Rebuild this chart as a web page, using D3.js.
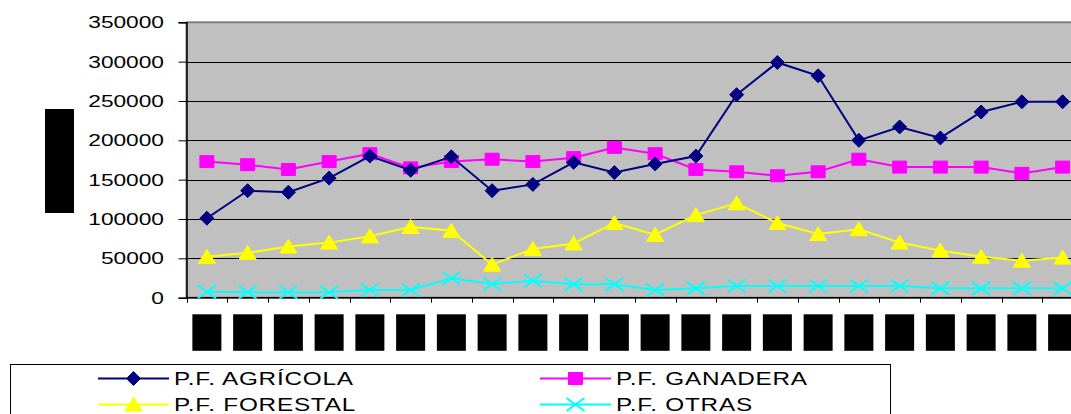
<!DOCTYPE html>
<meta charset="utf-8">
<script src="https://d3js.org/d3.v7.min.js"></script>
<style>
  body { margin: 0; background: #fff; }
  text { font-family: "Liberation Sans", Arial, sans-serif; }
</style>
<div id="chart"></div>
<script>
// categories (labels are blacked out in the reference)
var years = ["1985", "1986", "1987", "1988", "1989", "1990", "1991", "1992", "1993", "1994", "1995",
             "1996", "1997", "1998", "1999", "2000", "2001", "2002", "2003", "2004", "2005", "2006"];

var agricola = [101000, 136000, 134000, 152000, 180000, 162000, 179000, 136000, 144000, 172000, 159000,
                170000, 180000, 258000, 299000, 282000, 200000, 217000, 203000, 236000, 249000, 249000];
var ganadera = [173000, 169000, 163000, 173000, 183000, 165000, 173000, 176000, 173000, 178000, 191000,
                183000, 163000, 160000, 155000, 160000, 176000, 166000, 166000, 166000, 158000, 166000];
var forestal = [52000, 57000, 65000, 70000, 78000, 90000, 85000, 42000, 62000, 69000, 95000,
                80000, 105000, 120000, 95000, 81000, 87000, 70000, 60000, 52000, 47000, 51000];
var otras = [7600, 7000, 7000, 7000, 9800, 9800, 24700, 17400, 21500, 17000, 17000,
             9800, 11900, 14800, 14800, 14800, 14800, 14800, 11900, 11900, 11900, 11900];

var yTicks = [0, 50000, 100000, 150000, 200000, 250000, 300000, 350000];

var series = [
  { name: "P.F. AGRÍCOLA", values: agricola, color: "#000080", marker: "diamond" },
  { name: "P.F. GANADERA", values: ganadera, color: "#ff00ff", marker: "square" },
  { name: "P.F. FORESTAL", values: forestal, color: "#ffff00", marker: "triangle" },
  { name: "P.F. OTRAS", values: otras, color: "#00ffff", marker: "cross" }
];

var width = 1071, height = 414;
var plot = { left: 186.5, top: 22.3, bottom: 297.7, right: 1083 };
var stretch = 1.42; // text in the picture is drawn wide

var svg = d3.select("#chart").append("svg")
    .attr("width", width)
    .attr("height", height);

var x = d3.scaleBand().domain(years).range([plot.left, plot.right]);
var y = d3.scaleLinear().domain([0, 350000]).range([plot.bottom, plot.top]);

// plot background
svg.append("rect")
    .attr("x", plot.left).attr("y", plot.top)
    .attr("width", plot.right - plot.left).attr("height", plot.bottom - plot.top)
    .attr("fill", "#c0c0c0")
    .attr("stroke", "#808080")
    .attr("stroke-width", 2);

// gridlines
svg.selectAll(".grid")
    .data(yTicks.slice(1, -1))
    .enter().append("line")
    .attr("x1", plot.left).attr("x2", plot.right)
    .attr("y1", d => Math.round(y(d)) + 0.5).attr("y2", d => Math.round(y(d)) + 0.5)
    .attr("stroke", "#000").attr("stroke-width", 1);

// y axis
var yAxis = svg.append("g")
    .attr("transform", "translate(" + plot.left + ",0)")
    .call(d3.axisLeft(y).tickValues(yTicks).tickSize(8).tickFormat(d3.format("d")));
yAxis.select(".domain").attr("stroke", "#000").attr("stroke-width", 1.5);
yAxis.selectAll(".tick line").attr("stroke", "#000");
yAxis.selectAll(".tick text")
    .attr("x", 0).attr("dy", "0.35em")
    .attr("font-size", 16)
    .attr("font-family", "Liberation Sans, Arial, sans-serif")
    .attr("fill", "#000")
    .attr("transform", "translate(-22.5,0) scale(" + stretch + ",1)");

// x axis with ticks between categories
var xAxis = svg.append("g").attr("transform", "translate(0," + plot.bottom + ")");
xAxis.append("line")
    .attr("x1", plot.left).attr("x2", plot.right)
    .attr("stroke", "#000").attr("stroke-width", 1.5);
xAxis.selectAll(".xt")
    .data(years)
    .enter().append("line")
    .attr("x1", d => Math.round(x(d)) + 0.5).attr("x2", d => Math.round(x(d)) + 0.5)
    .attr("y1", 0).attr("y2", 5)
    .attr("stroke", "#000");

// category labels (redacted as black boxes)
var labels = svg.append("g");
labels.selectAll("rect")
    .data(years)
    .enter().append("rect")
    .attr("x", d => x(d) + x.bandwidth() / 2 - 14.5)
    .attr("y", 314.3)
    .attr("width", 29)
    .attr("height", 36.5)
    .attr("fill", "#000");
labels.selectAll("text")
    .data(years)
    .enter().append("text")
    .attr("transform", d => "translate(" + (x(d) + x.bandwidth() / 2 + 5) + ",332.5) rotate(-90)")
    .attr("text-anchor", "middle")
    .attr("font-size", 13)
    .attr("fill", "#000")
    .text(d => d);

// y axis title (redacted)
svg.append("rect")
    .attr("x", 45).attr("y", 109)
    .attr("width", 29).attr("height", 104)
    .attr("fill", "#000");

// marker shapes
function markerPath(type) {
  if (type === "diamond") return "M0,-7L7,0L0,7L-7,0Z";
  if (type === "square") return "M-7,-6H7V6H-7Z";
  if (type === "triangle") return "M0,-7.5L8.5,6.5H-8.5Z";
  return "M-9,-6.5L9,6.5M-9,6.5L9,-6.5";
}

function drawMarker(g, s) {
  var p = g.append("path").attr("d", markerPath(s.marker));
  if (s.marker === "cross") {
    p.attr("fill", "none").attr("stroke", s.color).attr("stroke-width", 2);
  } else {
    p.attr("fill", s.color).attr("stroke", s.color).attr("stroke-width", 1);
  }
}

var line = d3.line()
    .x((d, i) => x(years[i]) + x.bandwidth() / 2)
    .y(d => y(d));

var clip = svg.append("defs").append("clipPath").attr("id", "clip")
    .append("rect").attr("x", 0).attr("y", 0).attr("width", width).attr("height", plot.bottom + 10);

var plotG = svg.append("g").attr("clip-path", "url(#clip)");

// draw in reverse so the agricola series sits on top
series.slice().reverse().forEach(function(s) {
  plotG.append("path")
      .datum(s.values)
      .attr("d", line)
      .attr("fill", "none")
      .attr("stroke", s.color)
      .attr("stroke-width", 2);
  s.values.forEach(function(v, i) {
    var g = plotG.append("g")
        .attr("transform", "translate(" + (x(years[i]) + x.bandwidth() / 2) + "," + y(v) + ")");
    drawMarker(g, s);
  });
});

// legend
var legend = svg.append("g");
legend.append("rect")
    .attr("x", 10.5).attr("y", 364.5)
    .attr("width", 880).attr("height", 80)
    .attr("fill", "#fff")
    .attr("stroke", "#000");

var legendPos = [
  { x: 98, y: 378.5 }, { x: 540, y: 378.5 },
  { x: 98, y: 404.5 }, { x: 540, y: 404.5 }
];

series.forEach(function(s, i) {
  var p = legendPos[i];
  var g = legend.append("g").attr("transform", "translate(" + p.x + "," + p.y + ")");
  g.append("line")
      .attr("x1", 0).attr("x2", 71)
      .attr("stroke", s.color).attr("stroke-width", 2);
  var m = g.append("g").attr("transform", "translate(35.5,0)");
  drawMarker(m, s);
  g.append("text")
      .attr("transform", "translate(76,6.3) scale(1.39,1)")
      .attr("font-size", 17.5)
      .attr("letter-spacing", 0.55)
      .attr("fill", "#000")
      .text(s.name);
});
</script>
